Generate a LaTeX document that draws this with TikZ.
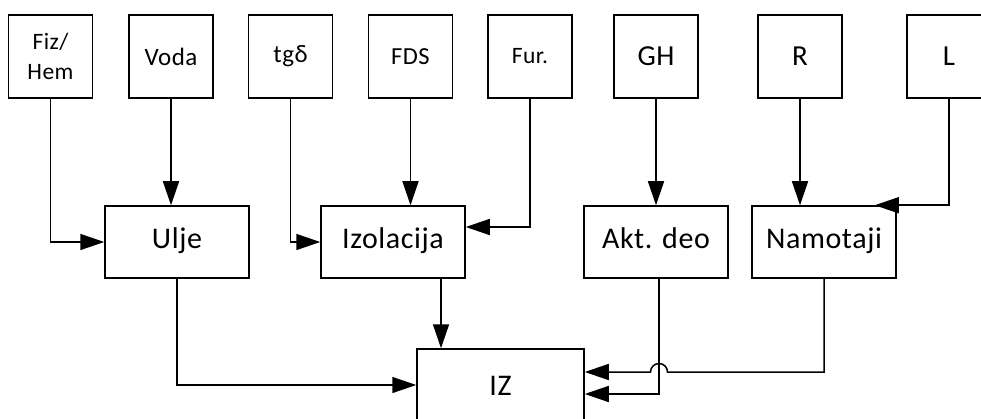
\documentclass[tikz,border=0pt]{standalone}
\usepackage{fontspec}
\setmainfont{Carlito}[LetterSpace=2]
\usetikzlibrary{arrows.meta,calc}
\begin{document}
\begin{tikzpicture}[x=1pt,y=1pt,
  topbox/.style={draw,line width=1.5pt,minimum width=84pt,minimum height=83pt,inner sep=0pt,align=center},
  midbox/.style={draw,line width=1.5pt,minimum width=144pt,minimum height=72pt,inner sep=0pt,text height=20pt,text depth=6pt,font=\fontsize{30}{32}\selectfont},
  arr/.style={line width=1.5pt,-{Triangle[length=24pt,width=16pt]}},
  ln/.style={line width=1.5pt}]
\useasboundingbox (0,0) rectangle (981,-419);
\begin{scope}
\clip (0,0) rectangle (981,-419);
% top boxes
\node[topbox,font=\fontsize{23.5}{30}\selectfont] (fiz) at (50.5,-56.5) {Fiz/\\Hem};
\node[topbox,font=\fontsize{25}{28}\selectfont] (voda) at (171,-56.5) {Voda};
\node[topbox,font=\fontsize{25}{28}\selectfont] (tg) at (290.5,-56.5) {tgδ};
\node[topbox,font=\fontsize{24.5}{28}\selectfont] (fds) at (410.5,-56.5) {FDS};
\node[topbox,font=\fontsize{23.5}{28}\selectfont] (fur) at (530,-56.5) {Fur.};
\node[topbox,font=\fontsize{29}{32}\selectfont] (gh) at (656,-56.5) {GH};
\node[topbox,font=\fontsize{29}{32}\selectfont] (r) at (800,-56.5) {R};
\node[topbox,font=\fontsize{29}{32}\selectfont] (l) at (949,-56.5) {L};
% middle boxes
\node[midbox] (ulje) at (177,-242) {Ulje};
\node[midbox] (izo) at (393,-242) {Izolacija};
\node[midbox] (akt) at (656,-242) {Akt. deo};
\node[midbox] (nam) at (824,-242) {Namotaji};
% IZ
\node[midbox,minimum width=167pt,minimum height=78pt] (iz) at (500.5,-388) {IZ};
% top connections
\draw[arr] (fiz.south) |- (ulje.west);
\draw[arr] (voda.south) -- (voda.south |- ulje.north);
\draw[arr] (tg.south) |- (izo.west);
\draw[arr] (fds.south) -- (fds.south |- izo.north);
\draw[arr] (fur.south) |- (izo.east |- 0,-227);
\draw[arr] (gh.south) -- (gh.south |- akt.north);
\draw[arr] (r.south) -- (r.south |- nam.north);
\coordinate (lc) at (nam.north east);
\draw[ln] (l.south) |- (lc);
\draw[arr] (lc) -- ++(-22,0);
% bottom connections
\draw[arr] (ulje.south) |- (iz.west |- 0,-385);
\draw[arr] (izo.south -| 441,0) -- (iz.north -| 441,0);
\coordinate (aktd) at (659,-278);
\draw[arr] (aktd) |- (iz.east |- 0,-394);
\coordinate (hopR) at (667.5,-372);
\draw[arr] (nam.south) |- (hopR) arc[start angle=0,end angle=180,radius=8.5pt] -- (iz.east |- 0,-372);
\end{scope}
\end{tikzpicture}
\end{document}
